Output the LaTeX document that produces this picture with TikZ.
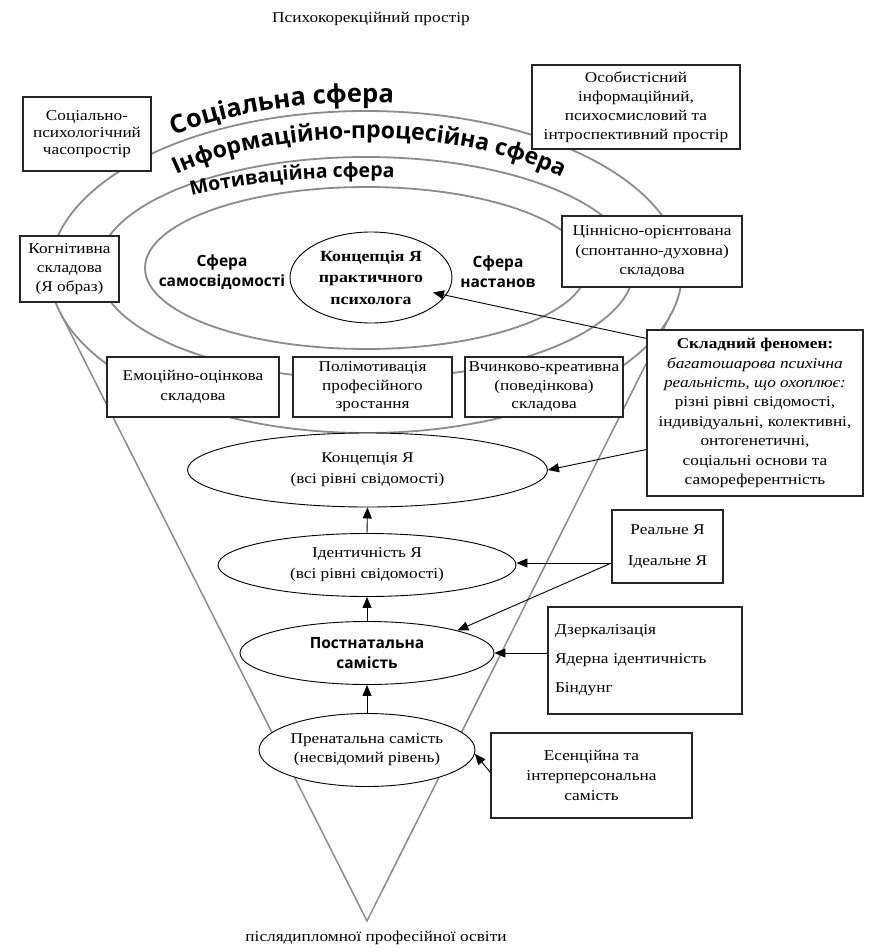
\documentclass[tikz,border=0pt]{standalone}
\usepackage{fontspec}
\setmainfont{Liberation Serif}[FakeStretch=1.15]
\newfontfamily\osans{Open Sans}
\usetikzlibrary{shapes.geometric,arrows.meta,decorations.text,calc}
\definecolor{sgray}{RGB}{140,140,140}
\begin{document}
\begin{tikzpicture}[x=1pt,y=-1pt,
  sph/.style={draw=sgray,line width=1.8pt},
  conel/.style={draw=sgray,line width=1.5pt},
  bx/.style={draw=black!85,fill=white,line width=1.1pt,align=center,inner sep=0pt},
  ell/.style={ellipse,draw,fill=white,line width=0.9pt,inner sep=0pt,align=center},
  arr/.style={-{Triangle[length=11pt,width=9pt]},line width=0.9pt},
  ser/.style={font=\fontsize{15}{#1}\selectfont},
  sansb/.style={font=\osans\bfseries\fontsize{15.5}{#1}\selectfont,align=center}]
\useasboundingbox (0,0) rectangle (868,952);

% titles
\node[ser=17] (title) at (371,19) {Психокорекційний простір};
\node[ser=17] (bottom) at (376,938) {післядипломної професійної освіти};

% cone
\coordinate (apex) at (367,921);
\coordinate (tl) at (60,312);
\coordinate (tr) at (672,312);
\draw[conel] (tl) -- (apex) -- (tr);

% spheres
\draw[sph] (366,272) ellipse [x radius=316pt, y radius=161pt];
\draw[sph] (366,268) ellipse [x radius=268pt, y radius=111pt];
\draw[sph] (366,268) ellipse [x radius=221pt, y radius=81pt];

% curved labels
\path[postaction={decorate},decoration={text along path,text align=left,
  text={|\osans\bfseries\fontsize{25.5}{25}\selectfont|Соціальна сфера}}]
  plot[smooth,domain=233.5:300,samples=40] ({366+324*cos(\x)},{270+167.5*sin(\x)});
\path[postaction={decorate},decoration={text along path,text align=left,
  text={|\osans\bfseries\fontsize{23}{23}\selectfont|Інформаційно-процесійна сфера}}]
  plot[smooth,domain=225.9:335,samples=50] ({366+273*cos(\x)},{268+130*sin(\x)});
\path[postaction={decorate},decoration={text along path,text align=left,
  text={|\osans\bfseries\fontsize{19.5}{19.5}\selectfont|Мотиваційна сфера}}]
  plot[smooth,domain=233:300,samples=40] ({366+290*cos(\x)},{268+91*sin(\x)});

% inner sphere texts
\node[sansb=20] (ss) at (222,272) {Сфера\\самосвідомості};
\node[sansb=20] (sn) at (498,272) {Сфера\\настанов};
\node[ell,minimum width=162pt,minimum height=91pt,font=\bfseries\fontsize{15.5}{21.5}\selectfont] (kp) at (371,277.5) {Концепція Я\\практичного\\психолога};

% lower ellipses
\node[ell,minimum width=360pt,minimum height=74pt,ser=21] (kon2) at (367.5,470) {Концепція Я\\(всі рівні свідомості)};
\node[ell,minimum width=298pt,minimum height=63pt,ser=21] (ident) at (367,565) {Ідентичність Я\\(всі рівні свідомості)};
\node[ell,minimum width=254pt,minimum height=63pt,sansb=20] (postnat) at (367,653) {Постнатальна\\самість};
\node[ell,minimum width=202pt,minimum height=73pt,ser=19] (pren) at (367,750) {Пренатальна самість\\(несвідомий рівень)};

% boxes
\node[bx,minimum width=128pt,minimum height=74pt,ser=16.7] (soc) at (87,134) {Соціально-\\психологічний\\часопростір};
\node[bx,minimum width=99pt,minimum height=66pt,ser=19] (kog) at (69.5,269) {Когнітивна\\складова\\(Я образ)};
\node[bx,minimum width=208pt,minimum height=84pt,ser=19] (osob) at (636,107) {Особистісний\\інформаційний,\\психосмисловий та\\інтроспективний простір};
\node[bx,minimum width=180pt,minimum height=71pt,ser=19.5] (tsin) at (652,251.5) {Ціннісно-орієнтована\\(спонтанно-духовна)\\складова};
\node[bx,minimum width=172pt,minimum height=60pt,ser=20] (emo) at (193,387) {Емоційно-оцінкова\\складова};
\node[bx,minimum width=159pt,minimum height=60pt,ser=18.5] (poli) at (372.5,387) {Полімотивація\\професійного\\зростання};
\node[bx,minimum width=158pt,minimum height=60pt,ser=18.5] (vch) at (544,387) {Вчинково-креативна\\(поведінкова)\\складова};
\node[bx,minimum width=216pt,minimum height=166pt,ser=19.4] (sklad) at (755,413) {\textbf{Складний феномен:}\\\textit{багатошарова психічна}\\\textit{реальність, що охоплює:}\\різні рівні свідомості,\\індивідуальні, колективні,\\онтогенетичні,\\соціальні основи та\\самореферентність};
\node[bx,minimum width=111pt,minimum height=73pt,ser=31] (real) at (667.5,546.5) {Реальне Я\\Ідеальне Я};
\node[bx,minimum width=194pt,minimum height=107pt,text width=180pt,inner xsep=7pt,align=left,ser=29] (dz) at (645,660.5) {Дзеркалізація\\Ядерна ідентичність\\Біндунг};
\node[bx,minimum width=201pt,minimum height=85pt,ser=20] (ess) at (591.5,775.5) {Есенційна та\\інтерперсональна\\самість};

% arrows
\draw[arr] ($(sklad.north west)+(0,9)$) -- ($(kp.center)+(62,15)$);
\draw[arr] ($(sklad.north west)+(0,120)$) -- (kon2.east);
\coordinate (rs) at ($(real.west)+(0,16.5)$);
\draw[arr] (rs) -- (rs -| ident.east);
\draw[arr] (rs) -- (postnat.14);
\draw[arr] (dz.west |- postnat.east) -- (postnat.east);
\draw[arr] ($(ess.west)+(0,-3)$) -- (pren.-2);
\draw[arr] (ident.north) -- (kon2.south);
\draw[arr] (postnat.north) -- (ident.south);
\draw[arr] (pren.north) -- (postnat.south);
\end{tikzpicture}
\end{document}
